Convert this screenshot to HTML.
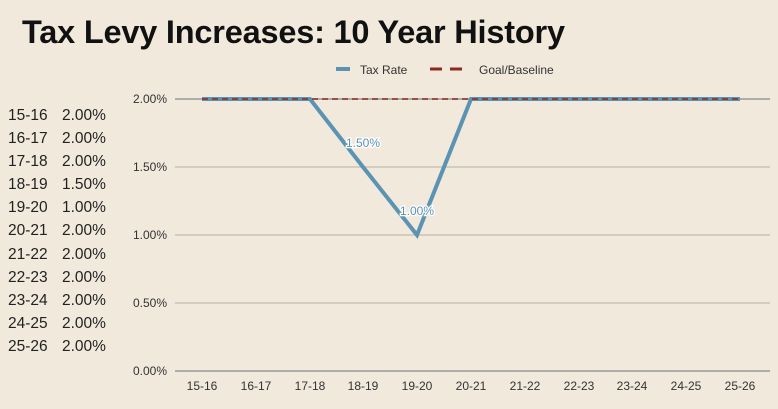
<!DOCTYPE html>
<html><head><style>
body{margin:0;width:778px;height:409px;background:#f1e9dc;font-family:"Liberation Sans",sans-serif;overflow:hidden;position:relative}
h1{position:absolute;left:22px;top:14px;margin:0;font-size:32.5px;font-weight:bold;color:#111;letter-spacing:-0.2px}
.list{position:absolute;left:8px;top:104px;font-size:15.5px;color:#222;line-height:23.1px}
.list span{display:inline-block;width:54px}
</style></head><body>
<h1>Tax Levy Increases: 10 Year History</h1>
<div class="list">
<div><span>15-16</span>2.00%</div><div><span>16-17</span>2.00%</div><div><span>17-18</span>2.00%</div><div><span>18-19</span>1.50%</div><div><span>19-20</span>1.00%</div><div><span>20-21</span>2.00%</div><div><span>21-22</span>2.00%</div><div><span>22-23</span>2.00%</div><div><span>23-24</span>2.00%</div><div><span>24-25</span>2.00%</div><div><span>25-26</span>2.00%</div>
</div>
<svg width="778" height="409" style="position:absolute;left:0;top:0" font-family="Liberation Sans, sans-serif">
<g stroke="#c9c3b8" stroke-width="1.5">
<line x1="175" y1="99" x2="770" y2="99" stroke="#999"/>
<line x1="175" y1="167" x2="770" y2="167"/>
<line x1="175" y1="235" x2="770" y2="235"/>
<line x1="175" y1="303" x2="770" y2="303"/>
<line x1="175" y1="371" x2="770" y2="371" stroke="#999"/>
</g>
<g font-size="12" fill="#333" text-anchor="end">
<text x="167" y="103">2.00%</text><text x="167" y="171">1.50%</text><text x="167" y="239">1.00%</text><text x="167" y="307">0.50%</text><text x="167" y="375">0.00%</text>
</g>
<g font-size="12" fill="#333" text-anchor="middle">
<text x="202" y="390">15-16</text><text x="256" y="390">16-17</text><text x="310" y="390">17-18</text><text x="363" y="390">18-19</text><text x="417" y="390">19-20</text><text x="471" y="390">20-21</text><text x="525" y="390">21-22</text><text x="579" y="390">22-23</text><text x="632" y="390">23-24</text><text x="686" y="390">24-25</text><text x="740" y="390">25-26</text>
</g>
<polyline points="202,99 310,99 363,167 417,235 471,99 740,99" fill="none" stroke="#5b93b3" stroke-width="4" stroke-linejoin="miter"/>
<line x1="202" y1="99" x2="740" y2="99" stroke="#8a2a22" stroke-width="1.5" stroke-dasharray="6,4"/>
<g font-size="12" fill="#5b93b3" stroke="#fff" stroke-width="2.5" paint-order="stroke" text-anchor="middle">
<text x="363" y="147">1.50%</text><text x="417" y="215">1.00%</text>
</g>
<line x1="336" y1="69" x2="350" y2="69" stroke="#5b93b3" stroke-width="4"/>
<text x="360" y="74" font-size="12" fill="#333">Tax Rate</text>
<line x1="430" y1="69" x2="470" y2="69" stroke="#8a2a22" stroke-width="3" stroke-dasharray="12,8"/>
<text x="479" y="74" font-size="12" fill="#333">Goal/Baseline</text>
</svg>
</body></html>
